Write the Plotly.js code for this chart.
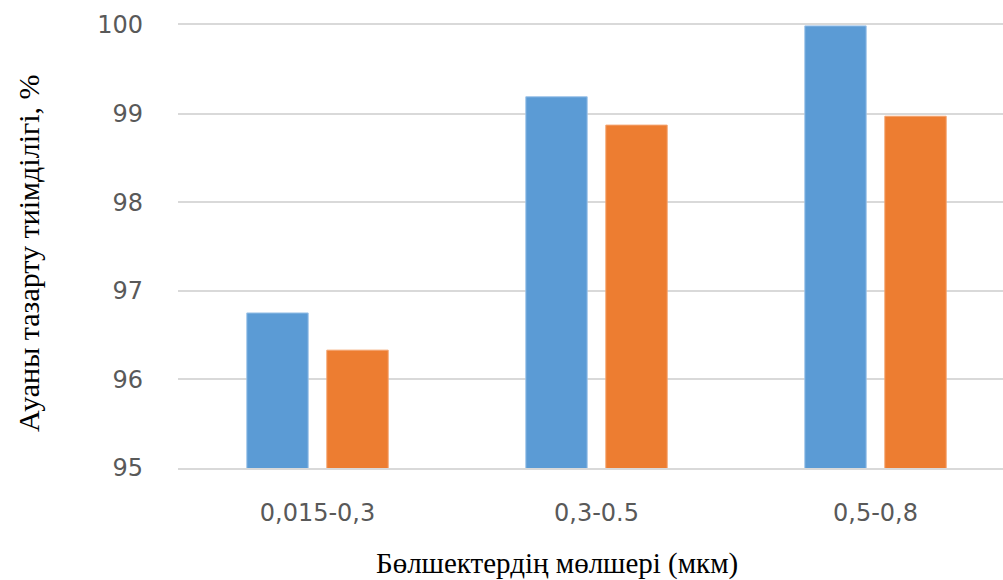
<!DOCTYPE html>
<html>
<head>
<meta charset="utf-8">
<script src="https://cdn.plot.ly/plotly-3.0.1.min.js"></script>
<style>html,body{margin:0;padding:0;background:#fff;overflow:hidden}</style>
</head>
<body>
<div id="chart" style="width:1003px;height:580px"></div>
<script>
const categories = ["0,015-0,3", "0,3-0.5", "0,5-0,8"];
const seriesA = [96.75, 99.19, 99.99];
const seriesB = [96.33, 98.87, 98.97];
const yTicks = [95, 96, 97, 98, 99, 100];

const traces = [
  {type: "bar", x: categories, y: seriesA, width: 0.22, offset: -0.2534,
   marker: {color: "#5b9bd5", line: {color: "#9cc3e8", width: 1}}, hoverinfo: "x+y"},
  {type: "bar", x: categories, y: seriesB, width: 0.22, offset: 0.0334,
   marker: {color: "#ed7d31", line: {color: "#f4a36e", width: 1}}, hoverinfo: "x+y"}
];

const layout = {
  width: 1003, height: 580,
  margin: {l: 178, r: 0, t: 25, b: 112},
  paper_bgcolor: "#fff", plot_bgcolor: "#fff",
  barmode: "overlay",
  showlegend: false,
  font: {family: "DejaVu Sans, sans-serif", color: "#595959"},
  xaxis: {
    type: "category", range: [-0.5, 2.457],
    showgrid: false, zeroline: false,
    showline: true, mirror: true, linecolor: "#d9d9d9", linewidth: 2,
    ticks: "", ticklen: 0, ticklabelstandoff: 22,
    tickfont: {size: 24, color: "#595959", family: "DejaVu Sans, sans-serif"},
    fixedrange: true
  },
  yaxis: {
    range: [95, 100], tickvals: yTicks, ticktext: yTicks.map(String),
    showgrid: true, gridcolor: "#d9d9d9", gridwidth: 2,
    zeroline: false, showline: false, ticks: "",
    ticklabelstandoff: 34,
    tickfont: {size: 24, color: "#595959", family: "DejaVu Sans, sans-serif"},
    fixedrange: true
  },
  annotations: [
    {text: "Бөлшектердің мөлшері (мкм)", xref: "paper", yref: "paper",
     x: (557 - 178) / 825, y: -(563 - 468) / 443, xanchor: "center", yanchor: "middle",
     showarrow: false, font: {family: "Liberation Serif, Times New Roman, serif", size: 29, color: "#000"}},
    {text: "Ауаны тазарту тиімділігі, %", xref: "paper", yref: "paper",
     x: -(178 - 28) / 825, y: (468 - 253) / 443, xanchor: "center", yanchor: "middle", textangle: -90,
     showarrow: false, font: {family: "Liberation Serif, Times New Roman, serif", size: 30, color: "#000"}}
  ]
};

Plotly.newPlot("chart", traces, layout, {displayModeBar: false, staticPlot: true});
</script>
</body>
</html>
